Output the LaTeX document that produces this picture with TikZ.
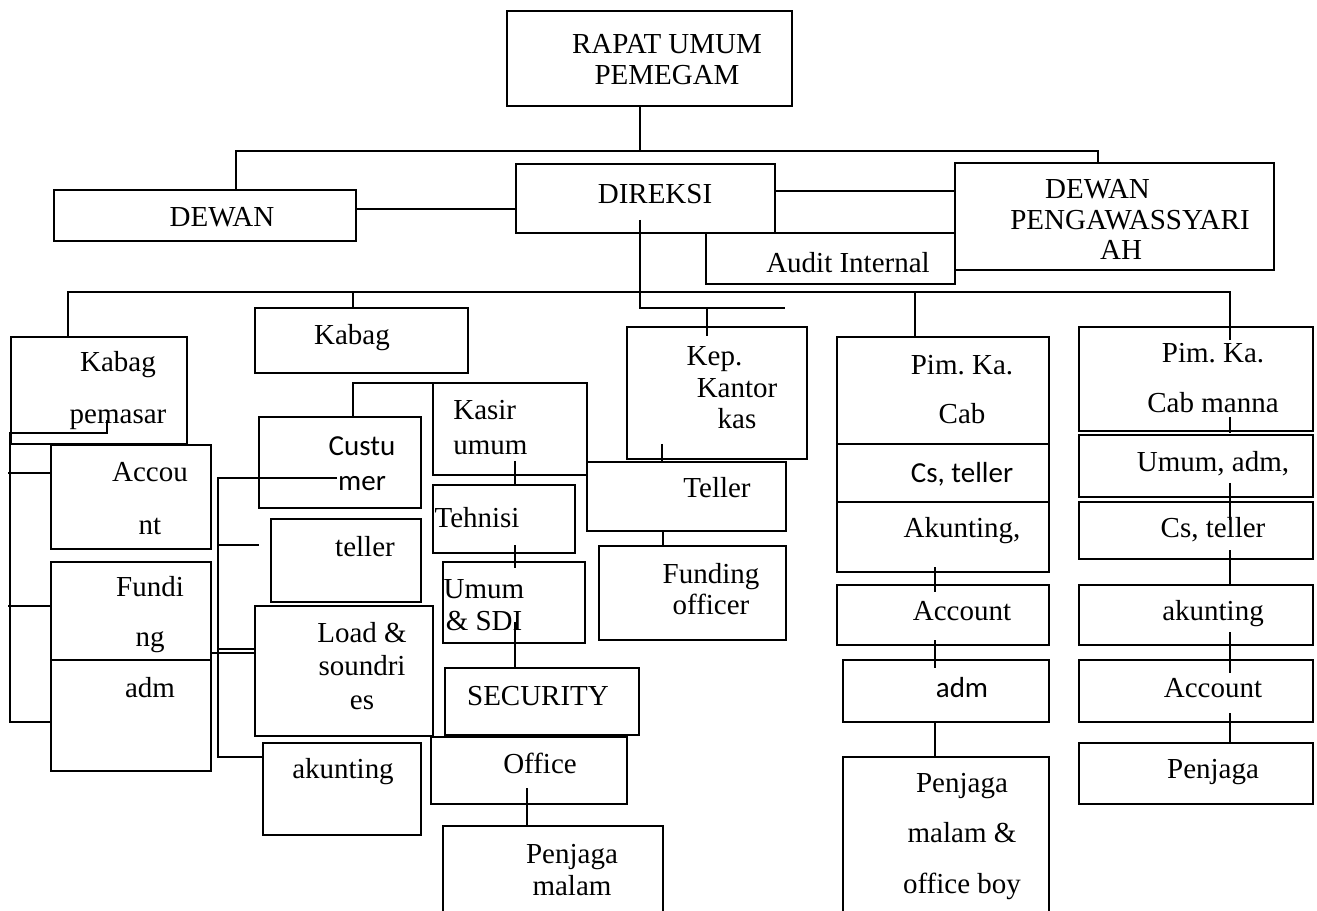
\documentclass[tikz,border=0pt]{standalone}
\usepackage{fontspec}
\setmainfont{Liberation Serif}
\setsansfont{Carlito}

\tikzset{
  box/.style 2 args={draw, line width=1.1pt, inner sep=0pt, outer sep=0pt,
    minimum width=#1*0.02cm, minimum height=#2*0.02cm},
  txt/.style={inner sep=0pt, align=center, anchor=base,
    font=\fontsize{16.5}{18.2}\selectfont},
  stxt/.style={txt, font=\sffamily\fontsize{16.5}{19.4}\selectfont},
  con/.style={line width=1.1pt},
}

\begin{document}
\frenchspacing
\begin{tikzpicture}[x=0.02cm, y=-0.02cm, line join=miter]
\clip (0,0) rectangle (1317,911);

% top level
\node[box={285}{95}] at (649.5,58.5) (RAPAT) {};
\node[txt] at (667,85) (RAPAT_T) {RAPAT UMUM\\PEMEGAM};
\node[box={302}{51}] at (205,215.5) (DEWAN) {};
\node[txt] at (222,227) (DEWAN_T) {DEWAN};
\node[box={259}{69}] at (645.5,198.5) (DIREKSI) {};
\node[txt] at (655,204) (DIREKSI_T) {DIREKSI};
\node[box={319}{107}] at (1114.5,216.5) (DPS) {};
\node[txt, font=\fontsize{16.5}{17.4}\selectfont] at (1130,260) (DPS_T) {DEWAN\hspace*{1.3cm}\\PENGAWASSYARI\\AH\hspace*{0.36cm}};
\node[box={249}{51}] at (830.5,258.5) (AUDIT) {};
\node[txt] at (848,273) (AUDIT_T) {Audit Internal};

\coordinate (J_TOP) at (640,151);
\coordinate (J_TOPW) at (236,151);
\coordinate (J_TOPE) at (1098,151);
\draw[con] (RAPAT.south -| J_TOP) -- (J_TOP);
\draw[con] (DEWAN.north -| J_TOPW) |- (J_TOPE) -- (DPS.north -| J_TOPE);
\coordinate (J_L1) at (435,209);
\draw[con] (DEWAN.east |- J_L1) -- (DIREKSI.west |- J_L1);
\coordinate (J_L2) at (860,191);
\draw[con] (DIREKSI.east |- J_L2) -- (DPS.west |- J_L2);

% direksi down
\coordinate (D_IN) at (640,220);
\coordinate (J_SUB) at (640,308);
\coordinate (J_SUBE) at (785,308);
\coordinate (J_KEP) at (707,308);
\coordinate (KEP_IN) at (707,336);
\draw[con] (D_IN) -- (J_SUB) -- (J_SUBE);
\draw[con] (J_KEP) -- (KEP_IN);

% main bus
\coordinate (B1) at (68,292);
\coordinate (B2) at (353,292);
\coordinate (B4) at (915,292);
\coordinate (B5) at (1230,292);
\coordinate (MANNA_IN) at (1230,340);

% left: kabag pemasar
\node[box={176}{107}] at (99,390.5) (PEMASAR) {};
\node[txt] at (118,424) (PEMASAR_T) {Kabag\\[11.4pt]pemasar};
\node[box={160}{104}] at (131,497) (ACC) {};
\node[txt] at (150,534) (ACC_T) {Accou\\[11.4pt]nt};
\node[box={160}{98}] at (131,611) (FUND) {};
\node[txt] at (150,646) (FUND_T) {Fundi\\[9.7pt]ng};
\node[box={160}{111}] at (131,715.5) (ADM) {};
\node[txt] at (150,697) (ADM_T) {adm};

\draw[con] (PEMASAR.north -| B1) -- (B1) -- (B5) -- (MANNA_IN);
\coordinate (P_IN) at (107,420);
\coordinate (P_C) at (107,433);
\coordinate (L_TOP) at (10,433);
\coordinate (L_BOT) at (10,722);
\draw[con] (P_IN) -- (P_C) -- (L_TOP) -- (L_BOT) -- (ADM.west |- L_BOT);
\coordinate (L_A) at (8,473);
\draw[con] (L_A) -- (ACC.west |- L_A);
\coordinate (L_F) at (8,606);
\draw[con] (L_F) -- (FUND.west |- L_F);

% kabag
\node[box={213}{65}] at (361.5,340.5) (KABAG) {};
\node[txt] at (352,345) (KABAG_T) {Kabag};
\draw[con] (B2) -- (KABAG.north -| B2);
\node[box={162}{91}] at (340,462.5) (CUST) {};
\node[stxt] at (362,490) (CUST_T) {Custu\\mer};
\node[box={150}{83}] at (346,560.5) (TELLER_L) {};
\node[txt] at (365,556) (TELLER_L_T) {teller};
\node[box={178}{130}] at (344,671) (LOAD) {};
\node[txt, font=\fontsize{16.5}{19}\selectfont] at (362,709) (LOAD_T) {Load \&\\soundri\\es};
\node[box={158}{92}] at (342,789) (AKUN_L) {};
\node[txt] at (343,778) (AKUN_L_T) {akunting};

\coordinate (M_IN) at (337,478);
\coordinate (M_TOP) at (218,478);
\coordinate (M_BOT) at (218,757);
\draw[con] (M_IN) -- (M_TOP) -- (M_BOT) -- (AKUN_L.west |- M_BOT);
\coordinate (M_T) at (259,545);
\draw[con] (M_TOP |- M_T) -- (M_T);
\coordinate (M_L1) at (0,649);
\draw[con] (M_TOP |- M_L1) -- (LOAD.west |- M_L1);
\coordinate (M_L2) at (0,653);
\draw[con] (FUND.east |- M_L2) -- (LOAD.west |- M_L2);

% kasir column
\node[box={154}{92}] at (510,429) (KASIR) {};
\node[txt, anchor=base west, align=left, font=\fontsize{16.5}{20}\selectfont] at (453,455) (KASIR_T) {Kasir\\umum};
\coordinate (J_CS) at (353,383);
\draw[con] (CUST.north -| J_CS) -- (J_CS) -- (KASIR.north west);
\node[box={142}{68}] at (504,519) (TEHNISI) {};
\node[txt] at (477,527) (TEHNISI_T) {Tehnisi};
\node[box={142}{81}] at (514,602.5) (SDI) {};
\node[txt] at (484,630) (SDI_T) {Umum\\\& SDI};
\node[box={194}{67}] at (542,701.5) (SECURITY) {};
\node[txt] at (538,705) (SECURITY_T) {SECURITY};
\node[box={196}{67}] at (529,770.5) (OFFICE) {};
\node[txt] at (540,773) (OFFICE_T) {Office};
\node[box={220}{104}] at (553,878) (PJG_M) {};
\node[txt] at (572,895) (PJG_M_T) {Penjaga\\malam};

\coordinate (K1) at (515,461);
\draw[con] (K1) -- (TEHNISI.north -| K1);
\coordinate (K2) at (515,545);
\coordinate (K2B) at (515,568);
\draw[con] (K2) -- (K2B);
\coordinate (K3) at (515,622);
\draw[con] (K3) -- (SECURITY.north -| K3);
\coordinate (K4) at (527,788);
\draw[con] (K4) -- (PJG_M.north -| K4);

% kantor kas
\node[box={180}{132}] at (717,393) (KEP) {};
\node[txt] at (737,429) (KEP_T) {Kep.\hspace*{0.9cm}\\Kantor\\kas};
\node[box={199}{69}] at (686.5,496.5) (TELLER_M) {};
\node[txt] at (717,498) (TELLER_M_T) {Teller};
\node[box={187}{94}] at (692.5,593) (FUNDOFF) {};
\node[txt, font=\fontsize{16.5}{17.4}\selectfont] at (711,614) (FUNDOFF_T) {Funding\\officer};
\coordinate (T1) at (662,444);
\draw[con] (T1) -- (TELLER_M.north -| T1);
\coordinate (T2) at (663,0);
\draw[con] (TELLER_M.south -| T2) -- (FUNDOFF.north -| T2);

% pim ka cab
\node[box={212}{107}] at (943,390.5) (PIMCAB) {};
\node[txt] at (962,424) (PIMCAB_T) {Pim. Ka.\\[9.7pt]Cab};
\draw[con] (B4) -- (PIMCAB.north -| B4);
\node[box={212}{58}] at (943,473) (CST_C) {};
\node[stxt] at (962,482) (CST_C_T) {Cs, teller};
\node[box={212}{70}] at (943,537) (AKUN_C) {};
\node[txt] at (962,537) (AKUN_C_T) {Akunting,};
\node[box={212}{60}] at (943,615) (ACC_C) {};
\node[txt] at (962,620) (ACC_C_T) {Account};
\node[box={206}{62}] at (946,691) (ADM_C) {};
\node[stxt] at (962,697) (ADM_C_T) {adm};
\node[box={206}{173}] at (946,843.5) (PJG_C) {};
\node[txt] at (962,893) (PJG_C_T) {Penjaga\\[10.3pt]malam \&\\[10.3pt]office boy};
\coordinate (C1) at (935,567);
\coordinate (C1B) at (935,592);
\draw[con] (C1) -- (C1B);
\coordinate (C2) at (935,640);
\coordinate (C2B) at (935,668);
\draw[con] (C2) -- (C2B);
\coordinate (C3) at (935,0);
\draw[con] (ADM_C.south -| C3) -- (PJG_C.north -| C3);

% pim ka cab manna
\node[box={234}{104}] at (1196,379) (MANNA) {};
\node[txt] at (1213,413) (MANNA_T) {Pim. Ka.\\[10.3pt]Cab manna};
\node[box={234}{62}] at (1196,466) (UMADM) {};
\node[txt] at (1213,472) (UMADM_T) {Umum, adm,};
\node[box={234}{57}] at (1196,530.5) (CST_M) {};
\node[txt] at (1213,537) (CST_M_T) {Cs, teller};
\node[box={234}{60}] at (1196,615) (AKUN_M) {};
\node[txt] at (1213,620) (AKUN_M_T) {akunting};
\node[box={234}{62}] at (1196,691) (ACC_M) {};
\node[txt] at (1213,697) (ACC_M_T) {Account};
\node[box={234}{61}] at (1196,773.5) (PJG_MN) {};
\node[txt] at (1213,778) (PJG_MN_T) {Penjaga};
\coordinate (N1) at (1230,417);
\coordinate (N1B) at (1230,433);
\draw[con] (N1) -- (N1B);
\coordinate (N2) at (1230,483);
\coordinate (N2B) at (1230,520);
\draw[con] (N2) -- (N2B);
\coordinate (N3) at (1230,550);
\draw[con] (N3) -- (AKUN_M.north -| N3);
\coordinate (N4) at (1230,632);
\coordinate (N4B) at (1230,673);
\draw[con] (N4) -- (N4B);
\coordinate (N5) at (1230,713);
\draw[con] (N5) -- (PJG_MN.north -| N5);
\end{tikzpicture}
\end{document}
